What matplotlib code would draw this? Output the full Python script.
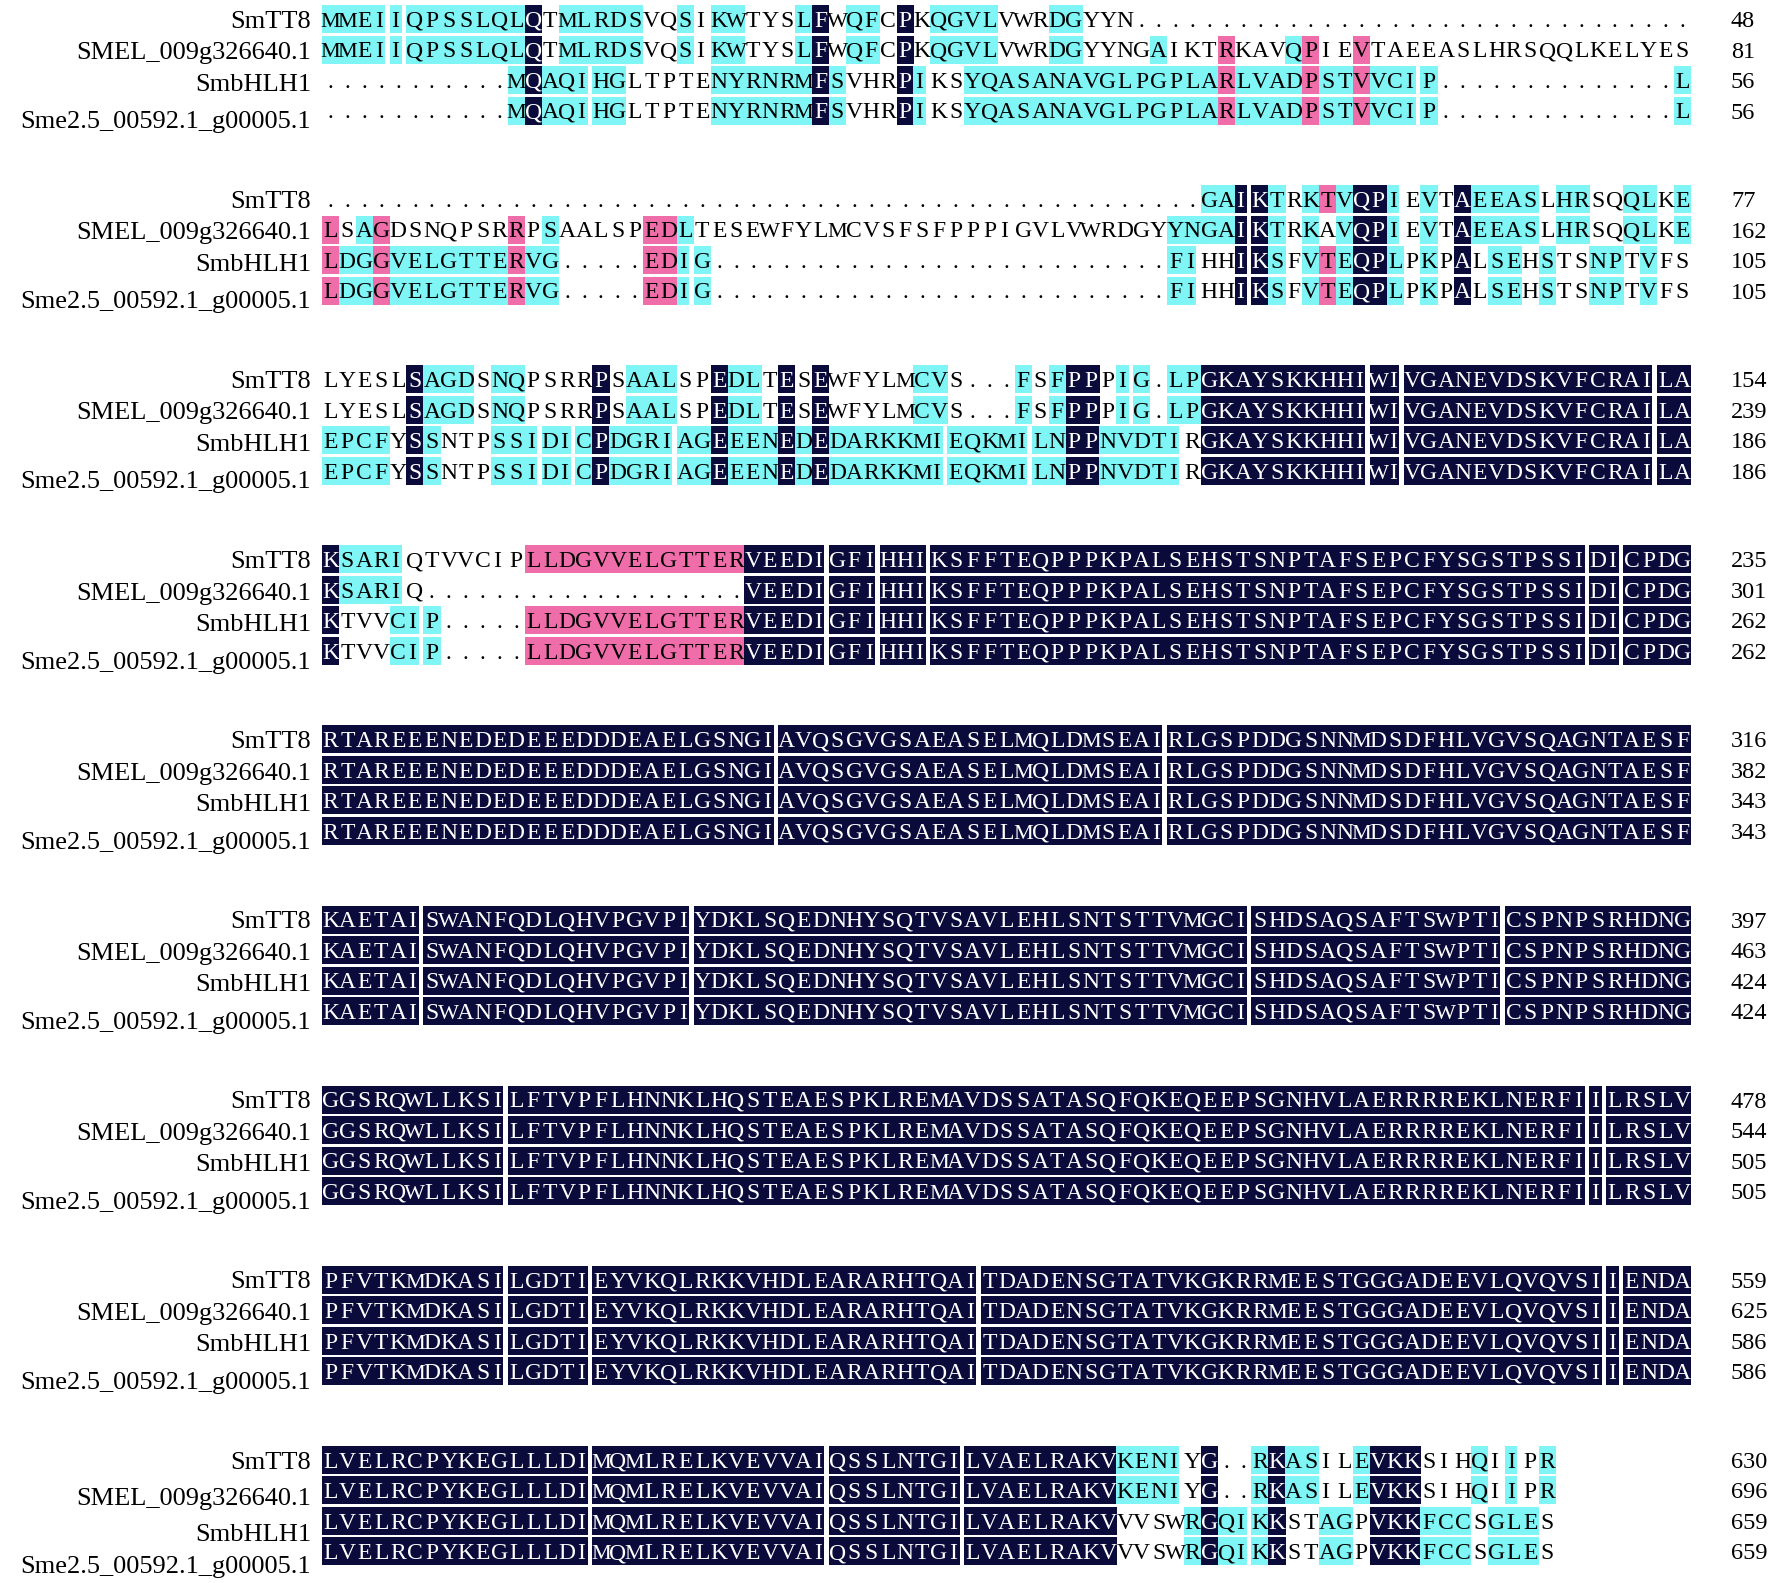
import matplotlib
matplotlib.use("Agg")
import matplotlib.pyplot as plt
from matplotlib.patches import Rectangle

# ---------------- data ----------------
names = ["SmTT8", "SMEL_009g326640.1", "SmbHLH1", "Sme2.5_00592.1_g00005.1"]

block1 = [
    "MMEIIQPSSLQLQTMLRDSVQSIKWTYSLFWQFCPKQGVLVWRDGYYN" + "." * 33,
    "MMEIIQPSSLQLQTMLRDSVQSIKWTYSLFWQFCPKQGVLVWRDGYYNGAIKTRKAVQPIEVTAEEASLHRSQQLKELYES",
    "." * 11 + "MQAQIHGLTPTENYRNRMFSVHRPIKSYQASANAVGLPGPLARLVADPSTVVCIP" + "." * 14 + "L",
    "." * 11 + "MQAQIHGLTPTENYRNRMFSVHRPIKSYQASANAVGLPGPLARLVADPSTVVCIP" + "." * 14 + "L",
]
block2 = [
    "." * 52 + "GAIKTRKTVQPIEVTAEEASLHRSQQLKE",
    "LSAGDSNQPSRRPSAALSPEDLTESEWFYLMCVSFSFPPPIGVLVWRDGYYNGAIKTRKAVQPIEVTAEEASLHRSQQLKE",
    "LDGGVELGTTERVG" + "." * 5 + "EDIG" + "." * 27 + "FIHHIKSFVTEQPLPKPALSEHSTSNPTVFS",
    "LDGGVELGTTERVG" + "." * 5 + "EDIG" + "." * 27 + "FIHHIKSFVTEQPLPKPALSEHSTSNPTVFS",
]
block3 = [
    "LYESLSAGDSNQPSRRPSAALSPEDLTESEWFYLMCVS...FSFPPPIG.LPGKAYSKKHHIWIVGANEVDSKVFCRAILA",
    "LYESLSAGDSNQPSRRPSAALSPEDLTESEWFYLMCVS...FSFPPPIG.LPGKAYSKKHHIWIVGANEVDSKVFCRAILA",
    "EPCFYSSNTPSSIDICPDGRIAGEEENEDEDARKKMIEQKMILNPPNVDTIRGKAYSKKHHIWIVGANEVDSKVFCRAILA",
    "EPCFYSSNTPSSIDICPDGRIAGEEENEDEDARKKMIEQKMILNPPNVDTIRGKAYSKKHHIWIVGANEVDSKVFCRAILA",
]
block4_common = "VEEDIGFIHHIKSFFTEQPPPKPALSEHSTSNPTAFSEPCFYSGSTPSSIDICPDG"
block4 = [
    "KSARIQTVVCIP" + "LLDGVVELGTTER" + block4_common,
    "KSARIQ" + "." * 19 + block4_common,
    "KTVVCIP" + "." * 5 + "LLDGVVELGTTER" + block4_common,
    "KTVVCIP" + "." * 5 + "LLDGVVELGTTER" + block4_common,
]
block5 = ["RTAREEENEDEDEEEDDDEAELGSNGIAVQSGVGSAEASELMQLDMSEAIRLGSPDDGSNNMDSDFHLVGVSQAGNTAESF"] * 4
block6 = ["KAETAISWANFQDLQHVPGVPIYDKLSQEDNHYSQTVSAVLEHLSNTSTTVMGCISHDSAQSAFTSWPTICSPNPSRHDNG"] * 4
block7 = ["GGSRQWLLKSILFTVPFLHNNKLHQSTEAESPKLREMAVDSSATASQFQKEQEEPSGNHVLAERRRREKLNERFIILRSLV"] * 4
block8 = ["PFVTKMDKASILGDTIEYVKQLRKKVHDLEARARHTQAITDADENSGTATVKGKRRMEESTGGGADEEVLQVQVSIIENDA"] * 4
block9_common = "LVELRCPYKEGLLLDIMQMLRELKVEVVAIQSSLNTGILVAELRAKV"
block9 = [
    block9_common + "KENIYG..RKASILEVKKSIHQIIPR",
    block9_common + "KENIYG..RKASILEVKKSIHQIIPR",
    block9_common + "VVSWRGQIKKSTAGPVKKFCCSGLES",
    block9_common + "VVSWRGQIKKSTAGPVKKFCCSGLES",
]
blocks = [block1, block2, block3, block4, block5, block6, block7, block8, block9]

# shading runs per block and row: (first column, last column, level)
# level: 'k' = 100% identity, 'p' = >=75%, 'c' = >=50%
shade1_top = [(1, 12, 'c'), (13, 13, 'k'), (15, 19, 'c'), (22, 22, 'c'), (24, 25, 'c'),
              (29, 29, 'c'), (30, 30, 'k'), (32, 33, 'c'), (35, 35, 'k'), (37, 40, 'c'), (44, 45, 'c')]
shade1_low = [(12, 12, 'c'), (13, 13, 'k'), (14, 18, 'c'), (24, 29, 'c'), (30, 30, 'k'), (31, 31, 'c'),
              (35, 35, 'k'), (36, 36, 'c'), (39, 53, 'c'), (54, 54, 'p'), (55, 58, 'c'), (59, 59, 'p'),
              (60, 61, 'c'), (62, 62, 'p'), (63, 66, 'c'), (81, 81, 'c')]
shade1 = [shade1_top,
          shade1_top + [(50, 50, 'c'), (54, 54, 'p'), (58, 58, 'c'), (59, 59, 'p'), (62, 62, 'p')],
          shade1_low, shade1_low]

shade2_tail = [(53, 54, 'c'), (55, 56, 'k'), (57, 57, 'c'), (59, 59, 'c'), (61, 61, 'c'), (62, 63, 'k'),
               (64, 64, 'c'), (66, 66, 'c'), (68, 68, 'k'), (69, 72, 'c'), (74, 75, 'c'), (78, 79, 'c'),
               (81, 81, 'c')]
shade2_low = [(1, 1, 'p'), (2, 3, 'c'), (4, 4, 'p'), (5, 11, 'c'), (12, 12, 'p'), (13, 14, 'c'),
              (20, 21, 'p'), (22, 23, 'c'), (51, 52, 'c'), (55, 56, 'k'), (57, 57, 'c'), (59, 59, 'c'),
              (60, 60, 'p'), (61, 61, 'c'), (62, 63, 'k'), (64, 64, 'c'), (66, 66, 'c'), (68, 68, 'k'),
              (70, 71, 'c'), (73, 73, 'c'), (76, 77, 'c'), (79, 79, 'c')]
shade2 = [shade2_tail + [(60, 60, 'p')],
          [(1, 1, 'p'), (3, 3, 'c'), (4, 4, 'p'), (12, 12, 'p'), (14, 14, 'c'), (20, 21, 'p'),
           (22, 22, 'c'), (51, 52, 'c')] + shade2_tail,
          shade2_low, shade2_low]

shade3_top = [(6, 6, 'k'), (7, 9, 'c'), (11, 12, 'c'), (17, 17, 'k'), (19, 21, 'c'), (24, 24, 'k'),
              (25, 26, 'c'), (28, 28, 'k'), (30, 30, 'k'), (36, 37, 'c'), (42, 42, 'c'), (44, 44, 'c'),
              (45, 46, 'k'), (48, 49, 'c'), (51, 52, 'c'), (53, 81, 'k')]
shade3_low = [(1, 4, 'c'), (6, 6, 'k'), (7, 7, 'c'), (11, 16, 'c'), (17, 17, 'k'), (18, 23, 'c'),
              (24, 24, 'k'), (25, 27, 'c'), (28, 28, 'k'), (29, 29, 'c'), (30, 30, 'k'), (31, 44, 'c'),
              (45, 46, 'k'), (47, 51, 'c'), (53, 81, 'k')]
shade3 = [shade3_top, shade3_top, shade3_low, shade3_low]

shade4 = [[(1, 1, 'k'), (2, 5, 'c'), (13, 25, 'p'), (26, 81, 'k')],
          [(1, 1, 'k'), (2, 5, 'c'), (26, 81, 'k')],
          [(1, 1, 'k'), (5, 7, 'c'), (13, 25, 'p'), (26, 81, 'k')],
          [(1, 1, 'k'), (5, 7, 'c'), (13, 25, 'p'), (26, 81, 'k')]]

shade_full = [[(1, 81, 'k')]] * 4

shade9_top = [(1, 47, 'k'), (48, 51, 'c'), (53, 53, 'k'), (56, 56, 'c'), (57, 57, 'k'), (58, 59, 'c'),
              (62, 62, 'c'), (63, 65, 'k'), (69, 69, 'c'), (71, 71, 'c'), (73, 73, 'c')]
shade9_low = [(1, 47, 'k'), (52, 52, 'c'), (53, 53, 'k'), (54, 56, 'c'), (57, 57, 'k'), (60, 61, 'c'),
              (63, 65, 'k'), (66, 68, 'c'), (70, 72, 'c')]
shade9 = [shade9_top, shade9_top, shade9_low, shade9_low]

shades = [shade1, shade2, shade3, shade4, shade_full, shade_full, shade_full, shade_full, shade9]

# ---------------- layout / style ----------------
W, H = 1772, 1583
X0, CW = 322.0, 16.9            # first column left edge, column width (px)
Y0, BS, RP = 19.0, 180.1, 30.5  # first row centre, block step, row step (px)
BH = 28.0                       # shading box height
IW = 0.71                       # narrow box fraction for 'I'
NAME_X, NUM_X = 311.0, 1731.0
name_dy = [[0, 1, 2, 9]] * 8 + [[0, 6, 11, 13]]

colors = {'c': '#80f5f5', 'p': '#ef6eaa', 'k': '#0b0b3b'}
SEQ_FS, NAME_FS, NUM_FS = 17, 19, 17.5
WIDE_FS = 16                    # M and W are set a touch tighter, as in the original
FONT = "Liberation Serif"

fig = plt.figure(figsize=(W / 100, H / 100), dpi=100)
ax = fig.add_axes([0, 0, 1, 1])
ax.set_xlim(0, W)
ax.set_ylim(H, 0)
ax.axis("off")

def cap_half(fs):
    return 0.662 * fs * 100 / 72 / 2

counts = [0, 0, 0, 0]
for b, (seqs, runs) in enumerate(zip(blocks, shades)):
    for r in range(4):
        seq = seqs[r]
        n = len(seq)
        mask = ['-'] * n
        for s, e, lvl in runs[r]:
            for i in range(s - 1, min(e, n)):
                if seq[i] != '.':
                    mask[i] = lvl
        yc = Y0 + b * BS + r * RP
        # shading boxes (merged runs, broken after narrow I)
        i = 0
        while i < n:
            lvl = mask[i]
            if lvl == '-':
                i += 1
                continue
            j = i
            while j + 1 < n and mask[j + 1] == lvl and seq[j] != 'I':
                j += 1
            wbox = (j - i + 1) * CW
            if seq[j] == 'I':
                wbox -= (1 - IW) * CW
            ax.add_patch(Rectangle((X0 + i * CW, yc - BH / 2), wbox + 0.3, BH,
                                   facecolor=colors[lvl], edgecolor='none', linewidth=0))
            i = j + 1
        # letters
        for i, ch in enumerate(seq):
            if ch == 'I':
                xc = X0 + i * CW + IW * CW / 2
            else:
                xc = X0 + (i + 0.5) * CW
            col = 'white' if mask[i] == 'k' else 'black'
            fs = WIDE_FS if ch in "MW" else SEQ_FS
            ax.text(xc, yc + cap_half(SEQ_FS), ch, ha='center', va='baseline',
                    fontsize=fs, family=FONT, color=col)
        counts[r] += sum(1 for ch in seq if ch != '.')
        # name and running residue number
        ax.text(NAME_X, yc + name_dy[b][r] + cap_half(NAME_FS), names[r], ha='right',
                va='baseline', fontsize=NAME_FS, family=FONT, color='black')
        ax.text(NUM_X, yc + cap_half(NUM_FS), str(counts[r]), ha='left', va='baseline',
                fontsize=NUM_FS, family=FONT, color='black')

fig.savefig("out.png", dpi=100, facecolor="white")
